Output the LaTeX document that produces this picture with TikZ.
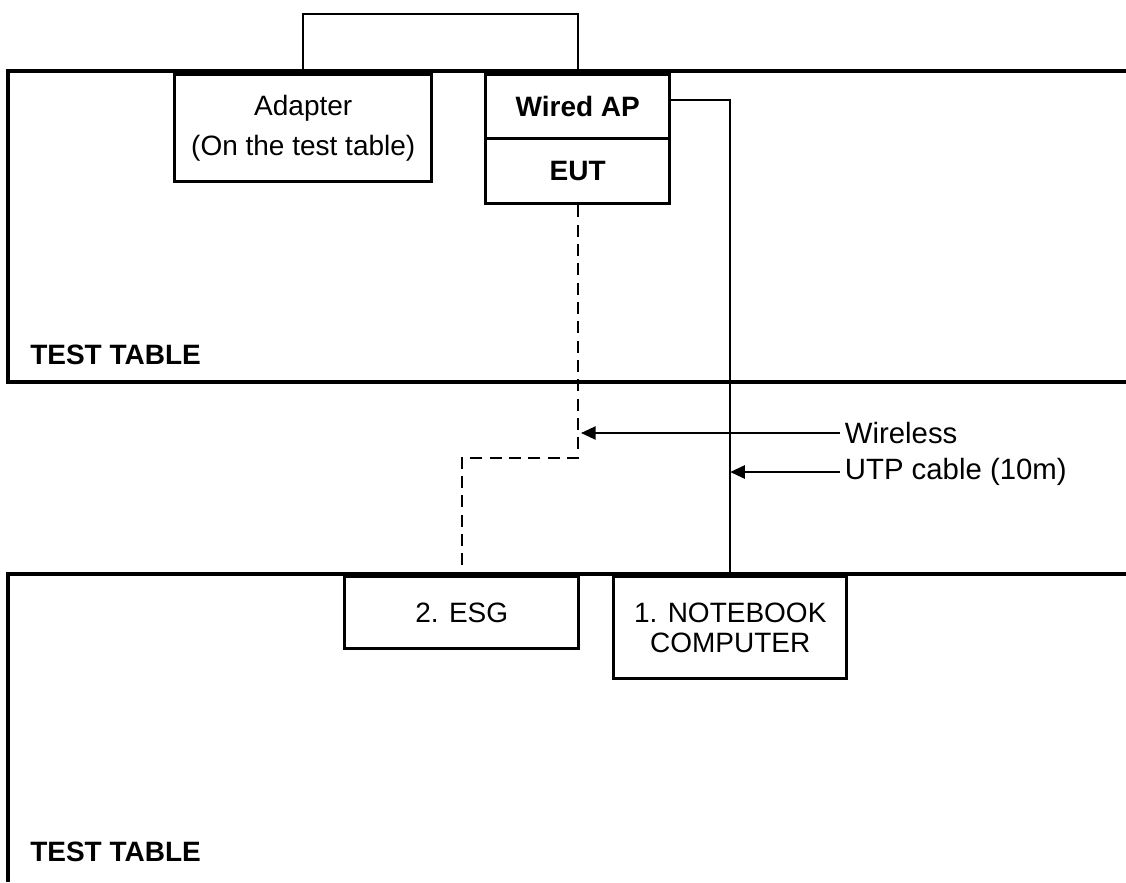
\documentclass[tikz,border=0pt]{standalone}
\usepackage{fontspec}
\setmainfont{Liberation Sans}
\usetikzlibrary{arrows.meta}
\usetikzlibrary{positioning}
\usetikzlibrary{calc}

\begin{document}
\begin{tikzpicture}[x=0.75pt,y=-0.75pt,
    every node/.style={font=\fontsize{21}{24}\selectfont},
    box/.style={draw,line width=2.6pt,anchor=north west,align=center,inner sep=0pt},
    table edge/.style={line width=3.2pt},
    wire/.style={line width=1.2pt},
    radio/.style={line width=1.5pt,dash pattern=on 9pt off 5.5pt},
    pointer/.style={wire,-{Triangle[length=11pt,width=10pt]}},
    note/.style={anchor=west,inner sep=3.5pt,font=\fontsize{22}{24}\selectfont}]

  \useasboundingbox (0,0) rectangle (1126,882);

  % the two test tables
  \draw[table edge] (1126,71) -- (8,71) -- (8,382) -- (1126,382);
  \node[anchor=west,inner sep=0pt] (upper) at (30,355) {\bfseries TEST TABLE};
  \draw[table edge] (1126,574) -- (8,574) -- (8,882);
  \node[anchor=west,inner sep=0pt] (lower) at (30,852) {\bfseries TEST TABLE};

  % equipment
  \node[box,minimum width=192.75pt,minimum height=80.25pt] (adapter) at (173,73)
    {Adapter\\[6pt](On the test table)};
  \node[box,minimum width=138pt,minimum height=48pt] (ap) at (484,73) {\bfseries Wired AP};
  \node[box,minimum width=138pt,minimum height=48.75pt] (eut) at (484,137) {\bfseries EUT};
  \node[box,minimum width=175.5pt,minimum height=54pt] (esg) at (343,575) {2. ESG};
  \node[box,minimum width=174.75pt,minimum height=76.5pt] (pc) at (612,575)
    {1. NOTEBOOK\\[-2pt]COMPUTER};

  \coordinate (top) at (0,14);
  \coordinate (bend) at (0,458);

  % cables
  \draw[wire] (adapter.north) -- (adapter.north |- top) -| (ap.north);
  \draw[wire] ([yshift=5.25pt]ap.east) -| (pc.north);
  \draw[radio] (eut.south) -- (eut.south |- bend) -| (esg.north);

  % labels
  \node[note] (wireless) at (840,433) {Wireless};
  \node[note] (utp) at (840,472) {UTP cable (10m)};
  \draw[pointer,shorten >=2.5pt] (wireless.west) -- (eut.south |- wireless.west);
  \draw[pointer] (utp.west) -- (pc.north |- utp.west);
\end{tikzpicture}
\end{document}
